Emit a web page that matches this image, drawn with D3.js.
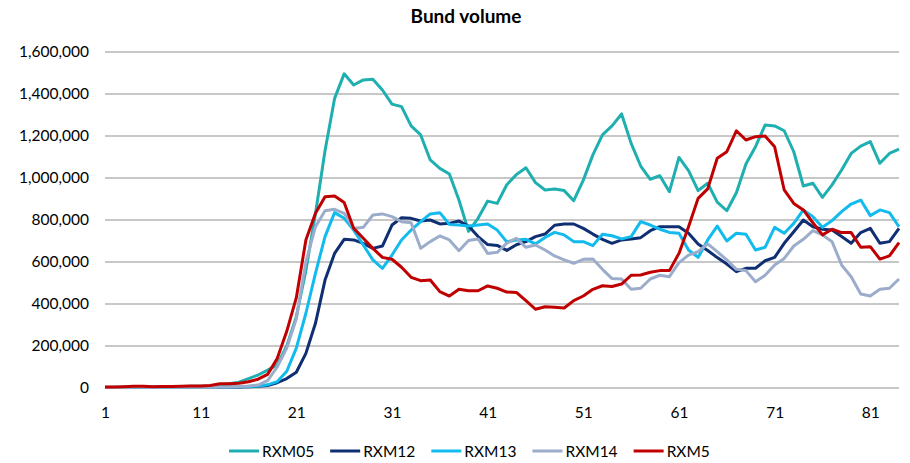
<!DOCTYPE html>
<html>
<head>
<meta charset="utf-8">
<script src="https://cdn.jsdelivr.net/npm/d3@7"></script>
<style>
  body { margin: 0; background: #fff; }
  text { font-family: Lato, "Open Sans", sans-serif; fill: #000; }
</style>
</head>
<body>
<div id="chart"></div>
<script>
var svgWidth = 910;
var svgHeight = 463;

// data
var days = d3.range(1, 85);
var seriesNames = ["RXM05", "RXM12", "RXM13", "RXM14", "RXM5"];
var seriesColors = ["#1fafb0", "#0f2f72", "#12bbee", "#9badcb", "#c00000"];
var yTicks = [0, 200000, 400000, 600000, 800000, 1000000, 1200000, 1400000, 1600000];
var xTicks = [1, 11, 21, 31, 41, 51, 61, 71, 81];

var rxm05 = [4000, 4000, 5000, 6000, 6000, 5000, 6000, 6000, 7000, 8000, 8000, 9000, 12000, 20000, 28000, 45000, 62000, 85000, 110000, 200000,
  340000, 560000, 830000, 1130000, 1379000, 1496000, 1443000, 1467000, 1470000, 1419000, 1352000, 1340000, 1248000, 1205000, 1086000, 1046000, 1019000, 895000, 746000, 808000,
  890000, 879000, 968000, 1016000, 1049000, 978000, 943000, 948000, 940000, 892000, 990000, 1110000, 1205000, 1248000, 1305000, 1165000, 1057000, 994000, 1011000, 935000,
  1098000, 1035000, 940000, 975000, 885000, 844000, 930000, 1067000, 1149000, 1252000, 1248000, 1225000, 1125000, 962000, 975000, 908000, 967000, 1038000, 1117000, 1152000,
  1173000, 1070000, 1117000, 1137000];
var rxm12 = [2000, 2000, 2000, 3000, 3000, 2000, 3000, 3000, 3000, 3000, 4000, 4000, 4000, 5000, 5000, 6000, 8000, 12000, 25000, 45000,
  75000, 165000, 308000, 514000, 641000, 708000, 705000, 689000, 665000, 676000, 776000, 811000, 808000, 795000, 800000, 781000, 784000, 795000, 771000, 721000,
  683000, 679000, 655000, 682000, 697000, 721000, 733000, 775000, 781000, 781000, 760000, 733000, 708000, 689000, 705000, 710000, 716000, 749000, 768000, 768000,
  768000, 737000, 686000, 655000, 621000, 590000, 554000, 570000, 570000, 606000, 622000, 689000, 744000, 800000, 768000, 756000, 752000, 721000, 689000, 740000,
  760000, 689000, 697000, 760000];
var rxm13 = [2000, 2000, 2000, 3000, 3000, 2000, 3000, 3000, 3000, 3000, 4000, 4000, 5000, 5000, 6000, 7000, 9000, 15000, 30000, 80000,
  190000, 356000, 546000, 721000, 835000, 808000, 752000, 681000, 610000, 570000, 633000, 705000, 752000, 792000, 829000, 835000, 779000, 776000, 771000, 776000,
  781000, 752000, 696000, 705000, 708000, 686000, 717000, 741000, 729000, 697000, 697000, 678000, 732000, 725000, 710000, 721000, 792000, 776000, 756000, 741000,
  737000, 657000, 622000, 705000, 771000, 700000, 737000, 732000, 657000, 670000, 765000, 737000, 784000, 848000, 816000, 765000, 797000, 840000, 876000, 895000,
  821000, 848000, 835000, 768000];
var rxm14 = [2000, 2000, 2000, 3000, 3000, 2000, 3000, 3000, 3000, 3000, 4000, 4000, 5000, 6000, 7000, 9000, 14000, 35000, 100000, 190000,
  330000, 600000, 768000, 844000, 851000, 832000, 760000, 765000, 824000, 829000, 816000, 792000, 787000, 665000, 697000, 724000, 705000, 654000, 702000, 710000,
  641000, 646000, 690000, 713000, 670000, 681000, 657000, 629000, 610000, 594000, 613000, 614000, 565000, 521000, 519000, 470000, 475000, 519000, 537000, 530000,
  597000, 633000, 649000, 686000, 649000, 610000, 565000, 559000, 506000, 537000, 586000, 617000, 676000, 708000, 749000, 729000, 697000, 586000, 530000, 448000,
  438000, 470000, 475000, 519000];
var rxm5 = [5000, 5000, 6000, 8000, 8000, 6000, 7000, 7000, 8000, 10000, 10000, 12000, 20000, 20000, 23000, 30000, 42000, 65000, 140000, 270000,
  430000, 705000, 832000, 911000, 914000, 883000, 760000, 713000, 665000, 622000, 613000, 575000, 527000, 511000, 514000, 459000, 438000, 470000, 463000, 463000,
  486000, 475000, 457000, 455000, 416000, 375000, 387000, 384000, 381000, 416000, 438000, 470000, 487000, 483000, 495000, 537000, 538000, 551000, 559000, 559000,
  641000, 768000, 903000, 948000, 1094000, 1125000, 1225000, 1181000, 1197000, 1200000, 1149000, 943000, 879000, 848000, 787000, 729000, 756000, 740000, 740000, 670000,
  673000, 614000, 629000, 692000];
var seriesValues = [rxm05, rxm12, rxm13, rxm14, rxm5];

var svg = d3.select("#chart")
  .append("svg")
  .attr("width", svgWidth)
  .attr("height", svgHeight);

var xScale = d3.scaleLinear()
  .domain([1, 84])
  .range([105, 899]);

var yScale = d3.scaleLinear()
  .domain([0, 1600000])
  .range([388, 52]);

// title
svg.append("text")
  .attr("x", 466)
  .attr("y", 23)
  .attr("text-anchor", "middle")
  .style("font-size", "19px")
  .style("font-weight", "bold")
  .text("Bund volume");

// gridlines
svg.append("g")
  .selectAll("line")
  .data(yTicks)
  .enter()
  .append("line")
  .attr("x1", 105)
  .attr("x2", 899)
  .attr("y1", d => yScale(d))
  .attr("y2", d => yScale(d))
  .attr("stroke", "#b4b4b4")
  .attr("stroke-width", 1.3);

// y axis labels
var leftAxis = d3.axisLeft(yScale)
  .tickValues(yTicks)
  .tickFormat(d3.format(","))
  .tickSize(0)
  .tickPadding(16);

var yAxisGroup = svg.append("g")
  .attr("transform", "translate(105,0)")
  .call(leftAxis);
yAxisGroup.select(".domain").remove();
yAxisGroup.selectAll("text")
  .style("font-size", "15.5px")
  .style("font-family", "Lato, sans-serif");

// x axis labels
var bottomAxis = d3.axisBottom(xScale)
  .tickValues(xTicks)
  .tickFormat(d3.format("d"))
  .tickSize(0)
  .tickPadding(19);

var xAxisGroup = svg.append("g")
  .attr("transform", "translate(0,388)")
  .call(bottomAxis);
xAxisGroup.select(".domain").remove();
xAxisGroup.selectAll("text")
  .style("font-size", "15.5px")
  .style("font-family", "Lato, sans-serif");

// lines
var line = d3.line()
  .x((d, i) => xScale(days[i]))
  .y(d => yScale(d));

svg.append("g")
  .selectAll("path")
  .data(seriesValues)
  .enter()
  .append("path")
  .attr("d", d => line(d))
  .attr("fill", "none")
  .attr("stroke", (d, i) => seriesColors[i])
  .attr("stroke-width", 3)
  .attr("stroke-linejoin", "round");

// legend
var legend = svg.append("g")
  .attr("transform", "translate(229,451)");

var xPos = 0;
seriesNames.forEach(function(name, i) {
  var item = legend.append("g")
    .attr("transform", `translate(${xPos},0)`);
  item.append("line")
    .attr("x1", 0)
    .attr("x2", 30)
    .attr("y1", 0)
    .attr("y2", 0)
    .attr("stroke", seriesColors[i])
    .attr("stroke-width", 3);
  var label = item.append("text")
    .attr("x", 33)
    .attr("y", 6)
    .style("font-size", "15.5px")
    .text(name);
  xPos += 33 + label.node().getComputedTextLength() + 16;
});
</script>
</body>
</html>
